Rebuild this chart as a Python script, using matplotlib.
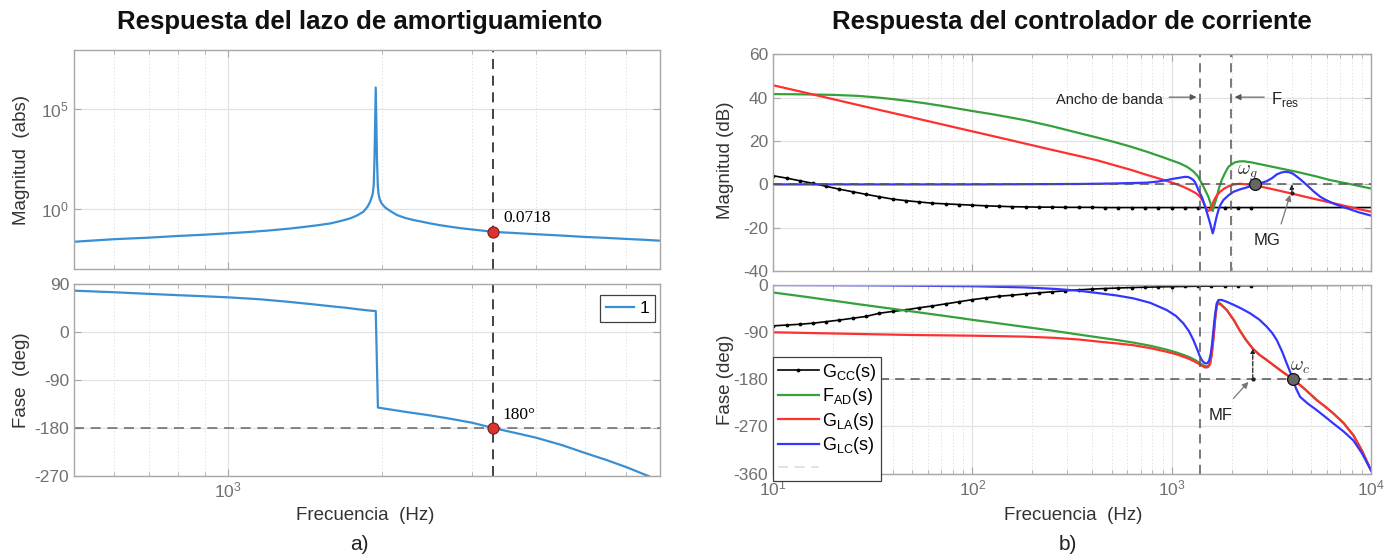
import matplotlib
matplotlib.use("Agg")
import matplotlib.pyplot as plt
from matplotlib.lines import Line2D
from matplotlib.ticker import FixedLocator, FixedFormatter, NullFormatter, LogLocator

plt.rcParams['font.family'] = ['Liberation Sans', 'DejaVu Sans']
plt.rcParams['axes.unicode_minus'] = False

# ---------------- data: a) damping loop ----------------
damp_mag_freq = [500, 550, 600, 700, 800, 900, 1000, 1100, 1200, 1320, 1420, 1500, 1585, 1660,
                 1735, 1790, 1842, 1875, 1897, 1912, 1920, 1928, 1935, 1946, 1957, 1964, 1970,
                 1980, 1998, 2030, 2072, 2141, 2220, 2308, 2400, 2488, 2600, 2722, 2850, 3000,
                 3150, 3300, 3600, 4000, 4500, 5000, 5500, 6000, 6500, 7000]
damp_mag = [0.023, 0.027, 0.031, 0.037, 0.045, 0.052, 0.061, 0.071, 0.084, 0.105, 0.13, 0.155,
            0.19, 0.25, 0.34, 0.48, 0.74, 1.3, 2.3, 4, 6, 15, 280, 1.2e6, 280, 15, 6,
            3.2, 1.9, 1.2, 0.83, 0.5, 0.36, 0.28, 0.23, 0.19, 0.155, 0.13, 0.11, 0.095,
            0.083, 0.0718, 0.064, 0.055, 0.047, 0.04, 0.036, 0.032, 0.029, 0.026]
damp_ph_freq = [500, 600, 700, 800, 900, 1000, 1150, 1300, 1465, 1600, 1700, 1800, 1900, 1946,
                1965, 2100, 2234, 2450, 2680, 3000, 3300, 3600, 4000, 4500, 5000, 5500, 6000,
                6640, 7000]
damp_ph = [77.5, 74.5, 71.5, 69, 67, 65, 61.5, 57, 52, 48, 45.5, 42.5, 40, 39.3,
           -141.7, -146, -150, -155.5, -161.5, -170, -180, -188, -198, -212, -227, -240, -253,
           -270, -280]
damp_pt_freq = 3300
damp_pt_mag = 0.0718
damp_pt_ph = -180

# ---------------- data: b) current controller ----------------
gcc_freq = [10, 11.7, 13.6, 15.8, 18.5, 21.5, 25.1, 29.3, 34.1, 39.8, 46.4, 54.1, 63.1, 73.6, 85.8,
            100, 117, 136, 158, 185, 215, 251, 293, 341, 398, 464, 541, 631, 736, 858, 1000,
            1170, 1360, 1580, 1850, 2150, 2510, 4000, 10000]
gcc_mag = [4.0, 2.9, 1.7, 0.5, -0.9, -2.2, -3.4, -4.6, -5.7, -6.8, -7.5, -8.1, -8.7, -9.0, -9.3,
           -9.6, -9.9, -10.1, -10.3, -10.4, -10.5, -10.5, -10.6, -10.6, -10.6, -10.7, -10.7,
           -10.7, -10.7, -10.7, -10.7, -10.7, -10.7, -10.7, -10.7, -10.7, -10.7, -10.7, -10.7]
gcc_ph = [-78, -76.5, -75, -73, -70, -67, -63.5, -60, -54, -50.5, -47.5, -43.5, -40, -36, -32,
          -28, -24.5, -21.5, -19.5, -17, -15, -13, -11, -9.3, -7.8, -6.7, -5.7, -4.9, -4.2,
          -3.6, -3.1, -2.7, -2.3, -2.0, -1.7, -1.4, -1.2, -0.8, -0.3]
gcc_dotted_count = 37

ad_mag_freq = [10, 12.3, 15, 20, 26.6, 32, 39, 48, 57.6, 70, 85, 100, 130, 183, 250, 347, 420, 510,
               620, 750, 900, 1101, 1200, 1285, 1350, 1416, 1470, 1528, 1570, 1607, 1640, 1683,
               1730, 1783, 1850, 1926, 2000, 2081, 2180, 2290, 2500, 2885, 3500, 4243, 5200,
               6237, 8000, 10000]
ad_mag = [41.7, 41.65, 41.55, 41.35, 40.9, 40.3, 39.5, 38.5, 37.5, 36.3, 35.0, 33.9, 32.2, 29.7,
          26.9, 23.6, 21.7, 19.7, 17.5, 15.1, 12.6, 9.7, 8.0, 6.0, 3.9, 0.5, -2.5, -5.7, -9.0,
          -12.3, -9.3, -5.9, -1.5, 2.0, 5.2, 8.1, 9.3, 10.2, 10.6, 10.7, 10.2, 9.0, 7.4, 5.8,
          3.9, 2.0, 0.0, -1.9]

la_mag_freq = [10, 13, 16, 20.3, 25, 32, 39, 48, 57.6, 70, 85, 100, 130, 183, 250, 347, 420, 510,
               620, 750, 880, 1021, 1130, 1237, 1320, 1389, 1440, 1472, 1500, 1530, 1555, 1575,
               1600, 1619, 1650, 1680, 1750, 1830, 1926, 2050, 2203, 2400, 2620, 3000, 3499,
               4200, 5140, 6000, 7000, 8300, 10000]
la_mag = [45.8, 43.4, 41.45, 39.25, 37.3, 35.0, 33.2, 31.3, 29.6, 27.8, 26.0, 24.5, 22.1, 18.9,
          16.0, 13.0, 11.2, 9.0, 6.8, 4.4, 2.5, 0.6, -0.9, -2.6, -4.0, -5.7, -8.0, -10.0, -11.5,
          -12.2, -12.0, -11.3, -9.5, -8.0, -6.5, -5.3, -3.4, -2.0, -0.9, 0.0, 0.3, 0.0, -0.5,
          -1.6, -3.0, -4.7, -6.6, -8.0, -9.4, -11.0, -12.6]

lc_mag_freq = [10, 100, 200, 347, 500, 750, 850, 946, 1020, 1101, 1167, 1210, 1250, 1285, 1310,
               1330, 1361, 1420, 1472, 1520, 1560, 1607, 1630, 1651, 1680, 1716, 1760, 1818,
               1930, 2044, 2200, 2384, 2620, 2800, 3000, 3200, 3366, 3550, 3706, 3900, 4083,
               4400, 4766, 5150, 5559, 6000, 6476, 7000, 7562, 8700, 10000]
lc_mag = [0, 0, 0.1, 0.2, 0.4, 0.8, 1.3, 2.0, 2.6, 3.1, 3.5, 3.4, 2.8, 2.0, 1.0, -0.3, -2.6, -6.0,
          -10.3, -14.5, -18.0, -22.6, -20.5, -18.0, -15.0, -11.9, -9.3, -7.2, -5.0, -3.4, -2.3,
          -1.4, -0.1, 0.6, 1.5, 3.0, 4.6, 5.5, 5.8, 5.6, 4.8, 2.5, -0.3, -3.2, -5.7, -7.4,
          -8.8, -10.0, -11.0, -12.9, -14.4]

ad_ph_freq = [10, 12.3, 15, 18.1, 22, 26.6, 33, 40, 46.6, 57.6, 70, 85, 100, 130, 183, 250, 340,
              437, 530, 643, 780, 944, 1050, 1145, 1230, 1300, 1388, 1430, 1472, 1500, 1530,
              1560, 1590, 1620, 1650, 1683, 1716, 1760, 1888, 2050, 2189, 2350, 2552, 2750,
              3000, 3500, 4057, 4600, 5344, 5900, 6476, 7300, 8160, 9000, 10000]
ad_ph = [-14.3, -18.8, -23.2, -27.6, -32, -36.5, -41.3, -45.6, -49, -53.8, -58.2, -62.6, -66.5,
         -72.3, -80, -87, -94.5, -100.5, -105, -110, -116, -123.5, -128.5, -133.5, -138, -142.5,
         -149.5, -152.5, -155, -155.5, -154, -149, -130, -101, -66, -38, -33, -36, -47.5, -67,
         -86, -104, -121.5, -133, -143.4, -162.5, -180, -197, -219.8, -232.5, -245.3, -264,
         -287, -316, -354]

la_ph_freq = [10, 26.6, 50, 100, 183, 260, 340, 437, 530, 643, 780, 944, 1050, 1145, 1230, 1300,
              1388, 1430, 1472, 1500, 1530, 1560, 1590, 1620, 1650, 1683, 1716, 1760, 1888, 2050,
              2189, 2350, 2552, 2750, 3000, 3500, 4057, 4600, 5344, 5900, 6476, 7300, 8160,
              9000, 10000]
la_ph = [-90.3, -93.5, -95.5, -96.8, -98.6, -101, -104, -108.4, -111.5, -115, -120.5, -127.5,
         -132, -137, -141.5, -146, -152, -155, -157.5, -157.5, -156, -151, -132, -103, -68, -40,
         -35, -37, -47.8, -67, -86, -104, -121.5, -133, -143.4, -162.5, -180, -197, -219.8,
         -232.5, -245.3, -264, -287, -316, -354]

lc_ph_freq = [10, 30, 100, 183, 260, 340, 437, 530, 643, 780, 944, 1050, 1145, 1220, 1285, 1340,
              1388, 1420, 1450, 1489, 1520, 1545, 1570, 1595, 1620, 1650, 1683, 1716, 1780, 1888,
              2050, 2250, 2472, 2750, 3000, 3200, 3366, 3580, 3779, 3920, 4057, 4200, 4406, 4800,
              5344, 5900, 6476, 7300, 8160, 9000, 10000]
lc_ph = [0, -0.6, -2.3, -4.6, -7.5, -10.8, -15.9, -20, -25.5, -34, -47.8, -59, -73.3, -88, -105,
         -122, -137, -144, -148, -150, -148.5, -143, -132, -112, -86, -57, -35, -28.7, -28.5,
         -32, -38, -45.5, -54, -66, -79.7, -92, -105, -127, -150, -165, -180, -197, -213.5,
         -226, -239, -252, -264.5, -280, -297, -321, -354]

bw_freq = 1390          # ancho de banda
fres_freq = 1980        # frecuencia de resonancia
wg_freq, wg_db = 2620, 0
wc_freq, wc_deg = 4057, -180
mg_freq, mg_db = 4010, -4.0
mf_freq, mf_deg = 2552, -121.5

legend_labels = [r'G$_\mathregular{CC}$(s)', r'F$_\mathregular{AD}$(s)',
                 r'G$_\mathregular{LA}$(s)', r'G$_\mathregular{LC}$(s)']

# ---------------- figure ----------------
W, H = 1398, 559
fig = plt.figure(figsize=(W / 100, H / 100), dpi=100)


def add_ax(l, t, r, b):
    return fig.add_axes([l / W, 1 - b / H, (r - l) / W, (b - t) / H])


SPINE = '#a8a8a8'
TICKLBL = '#707070'


def style(ax):
    for s in ax.spines.values():
        s.set_color(SPINE)
        s.set_linewidth(1.0)
    ax.tick_params(which='both', direction='in', top=True, right=True, colors=SPINE,
                   labelcolor=TICKLBL, labelsize=12.5)
    ax.tick_params(which='major', length=5, width=0.8)
    ax.tick_params(which='minor', length=3, width=0.6)
    ax.grid(True, which='major', color='#e2e2e2', lw=0.9)
    ax.grid(True, which='minor', axis='x', color='#e2e2e2', lw=0.7, ls=(0, (1.5, 2)))
    ax.set_axisbelow(True)


BLUE_A = '#3a8fd3'
GREEN = '#36a03a'
RED = '#ff3030'
BLUE = '#3535ff'
DASH = (0, (6, 4))

# ---- a) top ----
ax1 = add_ax(74, 50, 660, 269)
ax1.set_xscale('log'); ax1.set_yscale('log')
ax1.plot(damp_mag_freq, damp_mag, color=BLUE_A, lw=1.6)
ax1.axvline(damp_pt_freq, color='#222222', lw=1.2, ls=DASH)
ax1.plot(damp_pt_freq, damp_pt_mag, 'o', ms=8, mfc='#e03030', mec='#702020', mew=0.8, zorder=5)
ax1.text(3450, 0.36, '0.0718', family=['Liberation Serif'], fontsize=12.5, va='center')
ax1.set_xlim(500, 7000)
ax1.set_ylim(1e-3, 9e7)
ax1.yaxis.set_major_locator(FixedLocator([1, 1e5]))
ax1.yaxis.set_major_formatter(FixedFormatter([r'$\mathregular{10^{0}}$', r'$\mathregular{10^{5}}$']))
ax1.yaxis.set_minor_locator(FixedLocator([]))
ax1.xaxis.set_major_locator(FixedLocator([1000]))
ax1.xaxis.set_minor_locator(LogLocator(base=10, subs=range(2, 10)))
ax1.xaxis.set_major_formatter(NullFormatter())
ax1.xaxis.set_minor_formatter(NullFormatter())
style(ax1)

# ---- a) bottom ----
ax2 = add_ax(74, 284, 660, 476)
ax2.set_xscale('log')
ax2.plot(damp_ph_freq, damp_ph, color=BLUE_A, lw=1.6, label='1')
ax2.axvline(damp_pt_freq, color='#222222', lw=1.2, ls=DASH)
ax2.axhline(damp_pt_ph, color='#707070', lw=1.2, ls=DASH)
ax2.plot(damp_pt_freq, damp_pt_ph, 'o', ms=8, mfc='#e03030', mec='#702020', mew=0.8, zorder=5)
ax2.text(3450, -156, '180°', family=['Liberation Serif'], fontsize=12.5, va='center')
ax2.set_xlim(500, 7000)
ax2.set_ylim(-270, 90)
ax2.yaxis.set_major_locator(FixedLocator([90, 0, -90, -180, -270]))
ax2.xaxis.set_major_locator(FixedLocator([1000]))
ax2.xaxis.set_major_formatter(FixedFormatter([r'$\mathregular{10^{3}}$']))
ax2.xaxis.set_minor_locator(LogLocator(base=10, subs=range(2, 10)))
ax2.xaxis.set_minor_formatter(NullFormatter())
style(ax2)
leg = ax2.legend(loc='upper right', bbox_to_anchor=(655 / W, 1 - 295 / H),
                 bbox_transform=fig.transFigure, borderaxespad=0, fancybox=False,
                 edgecolor='#404040', framealpha=1, fontsize=12.5, handlelength=1.6,
                 handletextpad=0.3, borderpad=0.35)
leg.get_frame().set_linewidth(0.9)

# ---- b) top ----
ax3 = add_ax(773, 54.5, 1371, 271)
ax3.set_xscale('log')
ax3.plot(gcc_freq, gcc_mag, color='black', lw=1.2, marker='.', ms=3.5,
         markevery=list(range(gcc_dotted_count)))
ax3.plot(ad_mag_freq, ad_mag, color=GREEN, lw=1.6)
ax3.plot(la_mag_freq, la_mag, color=RED, lw=1.6)
ax3.plot(lc_mag_freq, lc_mag, color=BLUE, lw=1.6)
ax3.axhline(wg_db, color='#555555', lw=1.1, ls=DASH, zorder=4)
ax3.axvline(bw_freq, color='#555555', lw=1.1, ls=DASH)
ax3.axvline(fres_freq, color='#555555', lw=1.1, ls=DASH)
ax3.plot(wg_freq, wg_db, 'o', ms=8.5, mfc='#666666', mec='#111111', mew=0.9, zorder=6)
ax3.text(2383, 5.3, r'$\omega_g$', math_fontfamily='cm', fontsize=14, color='#333333',
         ha='center', va='center')
ax3.annotate('', xy=(1375, 40.3), xytext=(940, 40.3),
             arrowprops=dict(arrowstyle='-|>', color='#555555', lw=0.8, mutation_scale=9))
ax3.text(905, 39.0, 'Ancho de banda', fontsize=10.5, ha='right', va='center', color='#222222')
ax3.annotate('', xy=(2005, 40.3), xytext=(3010, 40.3),
             arrowprops=dict(arrowstyle='-|>', color='#555555', lw=0.8, mutation_scale=9))
ax3.text(3150, 39.0, r'F$_\mathregular{res}$', fontsize=12, ha='left', va='center',
         color='#222222')
ax3.annotate('', xy=(mg_freq, wg_db), xytext=(mg_freq, mg_db),
             arrowprops=dict(arrowstyle='-|>', color='#222222', lw=0.9, ls='--',
                             mutation_scale=6, shrinkA=0, shrinkB=0))
ax3.plot(mg_freq, mg_db, '.', color='#222222', ms=4)
ax3.annotate('', xy=(3930, -4.8), xytext=(3540, -18.3),
             arrowprops=dict(arrowstyle='-|>', color='#777777', lw=0.9, mutation_scale=9,
                             shrinkA=0, shrinkB=0))
ax3.text(3013, -25.7, 'MG', fontsize=12, ha='center', va='center', color='#222222')
ax3.set_xlim(10, 1e4)
ax3.set_ylim(-40, 60)
ax3.yaxis.set_major_locator(FixedLocator([-40, -20, 0, 20, 40, 60]))
ax3.xaxis.set_major_locator(LogLocator(base=10))
ax3.xaxis.set_minor_locator(LogLocator(base=10, subs=range(2, 10)))
ax3.xaxis.set_major_formatter(NullFormatter())
ax3.xaxis.set_minor_formatter(NullFormatter())
style(ax3)

# ---- b) bottom ----
ax4 = add_ax(773, 285, 1371, 473.5)
ax4.set_xscale('log')
l_cc, = ax4.plot(gcc_freq, gcc_ph, color='black', lw=1.2, marker='.', ms=3.5,
                 markevery=list(range(gcc_dotted_count)))
l_ad, = ax4.plot(ad_ph_freq, ad_ph, color=GREEN, lw=1.6)
l_la, = ax4.plot(la_ph_freq, la_ph, color=RED, lw=1.6)
l_lc, = ax4.plot(lc_ph_freq, lc_ph, color=BLUE, lw=1.6)
ax4.axhline(wc_deg, color='#555555', lw=1.1, ls=DASH, zorder=1.5)
ax4.axvline(bw_freq, color='#555555', lw=1.1, ls=DASH)
ax4.plot(wc_freq, wc_deg, 'o', ms=8.5, mfc='#666666', mec='#111111', mew=0.9, zorder=6)
ax4.text(4400, -157, r'$\omega_c$', math_fontfamily='cm', fontsize=14, color='#333333',
         ha='center', va='center')
ax4.annotate('', xy=(mf_freq, mf_deg), xytext=(mf_freq, wc_deg),
             arrowprops=dict(arrowstyle='-|>', color='#222222', lw=0.9, ls='--',
                             mutation_scale=6, shrinkA=0, shrinkB=0))
ax4.plot(mf_freq, wc_deg, '.', color='#222222', ms=4)
ax4.annotate('', xy=(2427, -185), xytext=(2042, -216.6),
             arrowprops=dict(arrowstyle='-|>', color='#777777', lw=0.9, mutation_scale=9,
                             shrinkA=0, shrinkB=0))
ax4.text(1770, -248.6, 'MF', fontsize=12, ha='center', va='center', color='#222222')
ax4.set_xlim(10, 1e4)
ax4.set_ylim(-360, 0)
ax4.yaxis.set_major_locator(FixedLocator([0, -90, -180, -270, -360]))
ax4.xaxis.set_major_locator(LogLocator(base=10))
ax4.xaxis.set_minor_locator(LogLocator(base=10, subs=range(2, 10)))
ax4.xaxis.set_minor_formatter(NullFormatter())
style(ax4)
blank = Line2D([], [], color='#dddddd', lw=1.2, ls=DASH)
leg2 = ax4.legend([l_cc, l_ad, l_la, l_lc, blank], legend_labels + [' '],
                  loc='upper left', bbox_to_anchor=(773 / W, 1 - 357 / H),
                  bbox_transform=fig.transFigure, borderaxespad=0, fancybox=False,
                  edgecolor='#404040', framealpha=1, fontsize=13, handlelength=2.3,
                  handletextpad=0.15, borderpad=0.25, labelspacing=0.2)
leg2.get_frame().set_linewidth(0.9)
leg2.set_zorder(10)

# ---- texts ----
TT = dict(fontsize=18.5, fontweight='bold', ha='center', va='center', color='#111111')
fig.text(360 / W, 1 - 22 / H, 'Respuesta del lazo de amortiguamiento', **TT)
fig.text(1072 / W, 1 - 22 / H, 'Respuesta del controlador de corriente', **TT)
LB = dict(fontsize=13.5, ha='center', va='center', color='#333333')
fig.text(22 / W, 1 - 160 / H, 'Magnitud  (abs)', rotation=90, **LB)
fig.text(22 / W, 1 - 380 / H, 'Fase  (deg)', rotation=90, **LB)
fig.text(726 / W, 1 - 160 / H, 'Magnitud (dB)', rotation=90, **LB)
fig.text(726 / W, 1 - 380 / H, 'Fase (deg)', rotation=90, **LB)
fig.text(365 / W, 1 - 515 / H, 'Frecuencia  (Hz)', **LB)
fig.text(1073 / W, 1 - 515 / H, 'Frecuencia  (Hz)', **LB)
fig.text(359 / W, 1 - 545 / H, 'a)', fontsize=15, ha='center', va='center', color='#222222')
fig.text(1068 / W, 1 - 545 / H, 'b)', fontsize=15, ha='center', va='center', color='#222222')

fig.savefig('out.png', dpi=100)
